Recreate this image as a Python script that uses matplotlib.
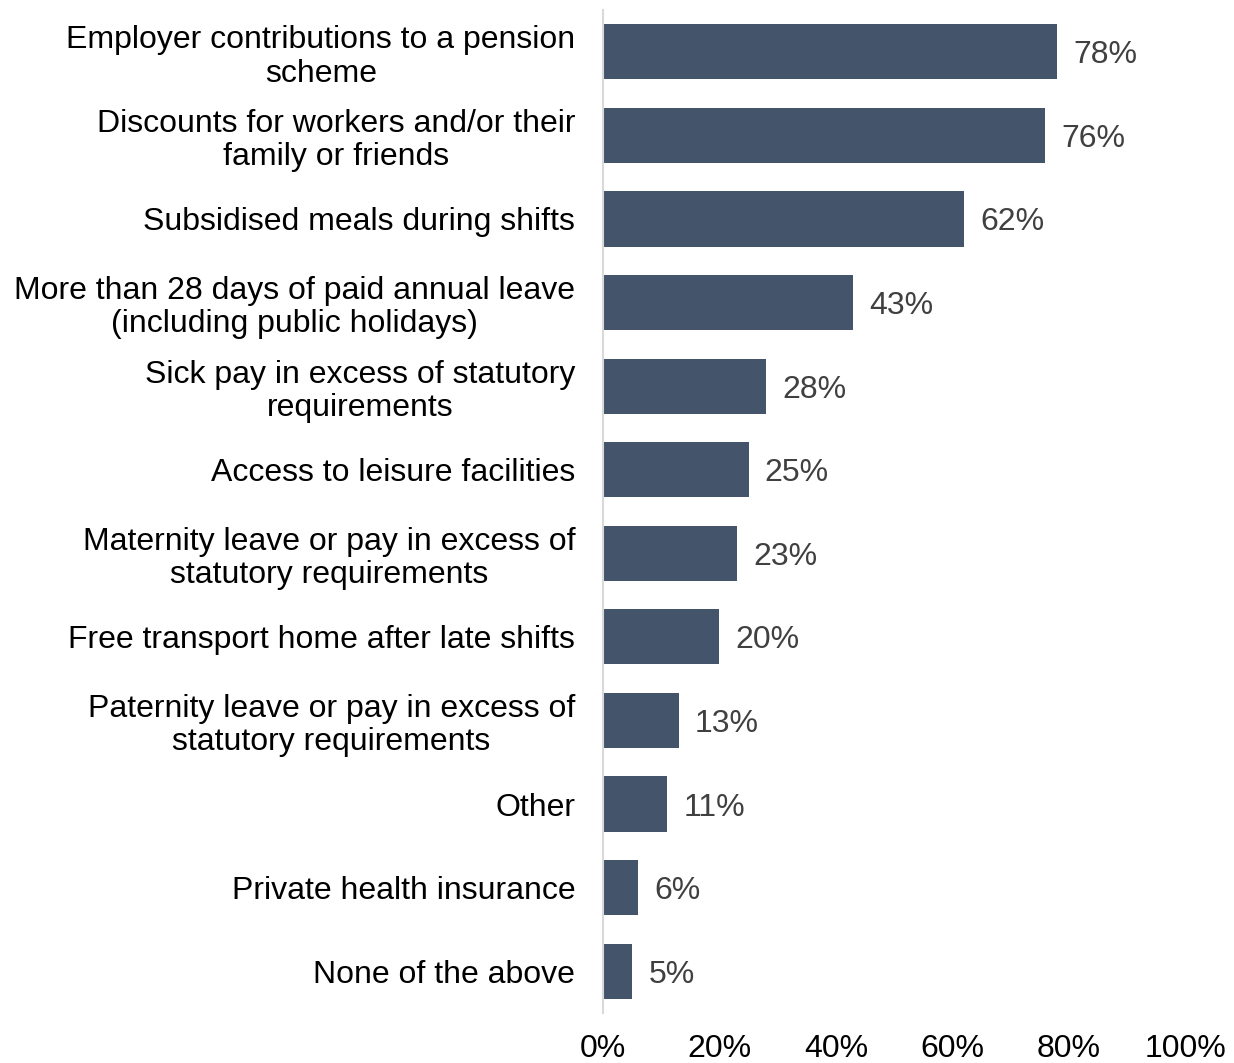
import matplotlib
matplotlib.use("Agg")
import matplotlib.pyplot as plt

plt.rcParams['font.family'] = ['Liberation Sans', 'DejaVu Sans']

categories = [
    "Employer contributions to a pension\nscheme",
    "Discounts for workers and/or their\nfamily or friends",
    "Subsidised meals during shifts",
    "More than 28 days of paid annual leave\n(including public holidays)",
    "Sick pay in excess of statutory\nrequirements",
    "Access to leisure facilities",
    "Maternity leave or pay in excess of\nstatutory requirements",
    "Free transport home after late shifts",
    "Paternity leave or pay in excess of\nstatutory requirements",
    "Other",
    "Private health insurance",
    "None of the above",
]
values = [78, 76, 62, 43, 28, 25, 23, 20, 13, 11, 6, 5]
xticks = [0, 20, 40, 60, 80, 100]
xtick_labels = ["0%", "20%", "40%", "60%", "80%", "100%"]

bar_color = "#44546A"
fs = 23

fig = plt.figure(figsize=(12.34, 10.63), dpi=100)
ax = fig.add_axes([0.4887, 0.047, 0.9603 - 0.4887, 0.9906 - 0.047])

ypos = list(range(len(categories)))
ax.barh(ypos, values, height=0.66, color=bar_color)
ax.set_ylim(len(categories) - 0.5, -0.5)
ax.set_xlim(0, 100)

for y, v in zip(ypos, values):
    ax.text(v + 2.8, y, f"{v}%", va="center_baseline", ha="left",
            fontsize=fs, color="#404040")

ax.set_yticks(ypos)
ax.set_yticklabels(categories, fontsize=fs, color="#000000", linespacing=1.15)
for lbl in ax.get_yticklabels():
    lbl.set_multialignment("center")
ax.set_xticks(xticks)
ax.set_xticklabels(xtick_labels, fontsize=fs, color="#000000")
ax.tick_params(axis="y", length=0, pad=20)
ax.tick_params(axis="x", length=0, pad=15)

for side in ["top", "right", "bottom"]:
    ax.spines[side].set_visible(False)
ax.spines["left"].set_color("#d9d9d9")
ax.spines["left"].set_linewidth(1.5)

fig.savefig("out.png", dpi=100)
